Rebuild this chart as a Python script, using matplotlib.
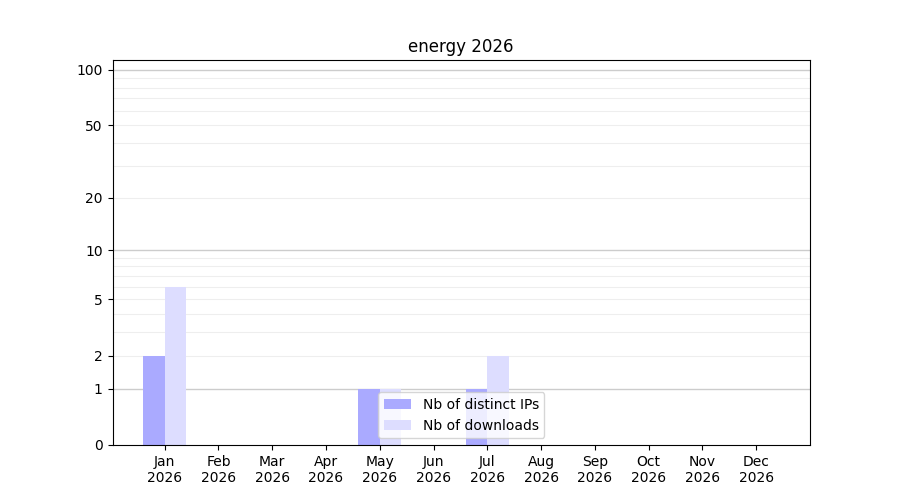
import numpy as np
import matplotlib
matplotlib.use("Agg")
import matplotlib.pyplot as plt

# Données
mois = ["Jan", "Feb", "Mar", "Apr", "May", "Jun",
        "Jul", "Aug", "Sep", "Oct", "Nov", "Dec"]
annee = "2026"
nb_ips = [2, 0, 0, 0, 1, 0, 1, 0, 0, 0, 0, 0]
nb_downloads = [6, 0, 0, 0, 1, 0, 2, 0, 0, 0, 0, 0]

yticks = [0, 1, 2, 5, 10, 20, 50, 100]
grille_majeure = [1, 10, 100]
grille_mineure = [2, 3, 4, 5, 6, 7, 8, 9, 20, 30, 40, 50, 60, 70, 80, 90]


def fwd(v):
    v = np.asarray(v, dtype=float)
    return np.log10(1 + np.clip(v, 0, None))


def inv(v):
    return 10 ** np.asarray(v, dtype=float) - 1


fig, ax = plt.subplots(figsize=(9, 5), dpi=100)
x = np.arange(len(mois))

ax.bar(x - 0.2, nb_ips, width=0.4, color="#aaaaff", label="Nb of distinct IPs")
ax.bar(x + 0.2, nb_downloads, width=0.4, color="#ddddff", label="Nb of downloads")

ax.set_yscale("function", functions=(fwd, inv))
ax.set_ylim(0, 113)
ax.set_xlim(-0.97, 12)

for v in grille_mineure:
    ax.axhline(v, color="#eeeeee", linewidth=0.8, zorder=0)
for v in grille_majeure:
    ax.axhline(v, color="#cccccc", linewidth=1.0, zorder=0)

ax.set_yticks(yticks)
ax.set_yticklabels([str(t) for t in yticks])
ax.yaxis.set_minor_locator(matplotlib.ticker.NullLocator())
ax.set_xticks(x)
ax.set_xticklabels([m + "\n" + annee for m in mois])

ax.set_title("energy " + annee)
ax.legend(loc="lower center")

fig.savefig("out.png")
